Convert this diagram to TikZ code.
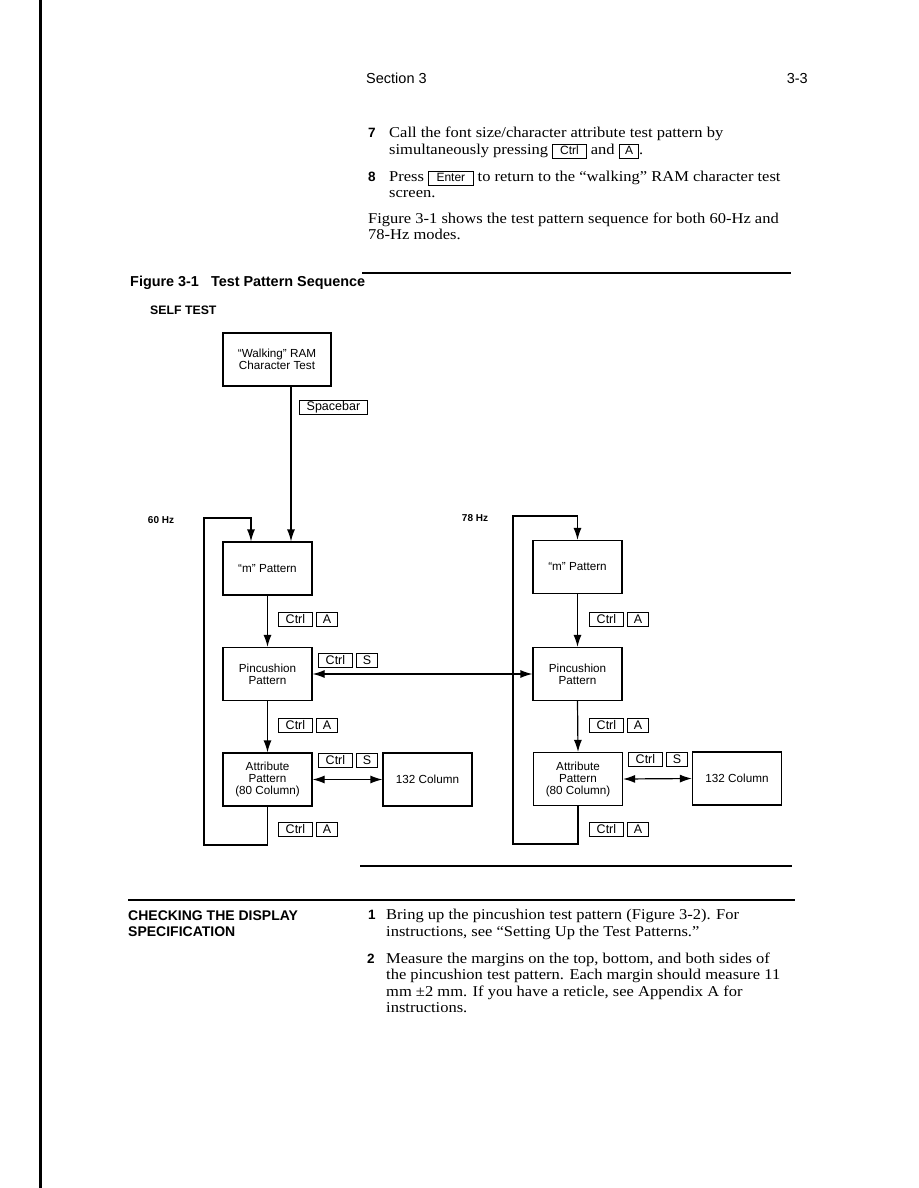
\documentclass[tikz,border=0pt]{standalone}
\usepackage{fontspec}
\setmainfont[FakeStretch=1.1]{Liberation Serif}
\setsansfont{Liberation Sans}
\usetikzlibrary{arrows.meta,calc}
\newcommand\kbox[2]{{\setlength\fboxsep{0.8pt}\setlength\fboxrule{0.9pt}\fbox{\makebox[#1][c]{\sffamily\fontsize{12}{12}\selectfont\rule[-2.8pt]{0pt}{11.2pt}#2}}}}
\begin{document}
\begin{tikzpicture}[x=1pt,y=-1pt,
  box/.style={draw, line width=1.2pt, minimum width=89pt, minimum height=53pt, inner sep=2pt, align=center, font=\sffamily\fontsize{11.7}{12}\selectfont},
  key/.style={draw, line width=0.9pt, inner sep=0pt, minimum height=13.5pt, anchor=north west, font=\sffamily\fontsize{12.5}{12.5}\selectfont},
  body/.style={anchor=base west, inner sep=0pt, font=\fontsize{15}{16}\selectfont},
  num/.style={anchor=base west, inner sep=0pt, font=\sffamily\bfseries\fontsize{13.5}{16}\selectfont},
  head/.style={anchor=base west, inner sep=0pt, font=\sffamily\fontsize{14.5}{16}\selectfont},
  lbl/.style={inner sep=0pt, font=\sffamily\bfseries\fontsize{10}{12}\selectfont},
  arr/.style={line width=1.2pt, -{Latex[length=12pt,width=8pt]}},
  darr/.style={line width=1.2pt, {Latex[length=12pt,width=8pt]}-{Latex[length=12pt,width=8pt]}},
  rule/.style={line width=2pt}
]
\useasboundingbox (0,0) rectangle (918,1188);
\fill[white] (0,0) rectangle (918,1188);
% left page edge
\draw[line width=3pt] (40.5,0) -- (40.5,1188);

% header
\node[head] (sec) at (366,84) {Section 3};
\node[head, anchor=base east] (pg) at (808,84) {3-3};

% steps
\node[num] (n7) at (368,138) {7};
\node[body] (t7a) at (389,138) {Call the font size/character attribute test pattern by};
\node[body] (t7b) at (389,154) {simultaneously pressing \kbox{31pt}{Ctrl} and \kbox{17pt}{A}.};
\node[num] (n8) at (368,181) {8};
\node[body] (t8a) at (389,181) {Press \kbox{42pt}{Enter} to return to the “walking” RAM character test};
\node[body] (t8b) at (389,197) {screen.};
\node[body] (t9a) at (368,223) {Figure 3-1 shows the test pattern sequence for both 60-Hz and};
\node[body] (t9b) at (368,239) {78-Hz modes.};

% figure caption
\draw[rule] (362,273) -- (791,273);
\node[anchor=base west, inner sep=0pt, font=\sffamily\bfseries\fontsize{14.4}{16}\selectfont] (cap) at (130,286) {Figure 3-1\ \ \ Test Pattern Sequence};
\node[anchor=base west, inner sep=0pt, font=\sffamily\bfseries\fontsize{12.3}{13}\selectfont] (self) at (150,314) {SELF TEST};

% boxes
\node[box, minimum width=108pt] (wr) at (277,359.5) {“Walking” RAM\\Character Test};
\node[box] (m1) at (267.5,568.5) {“m” Pattern};
\node[box] (p1) at (267.5,674) {Pincushion\\Pattern};
\node[box] (a1) at (267.5,779.5) {Attribute\\Pattern\\(80 Column)};
\node[box] (c1) at (427.5,779.5) {132 Column};
\node[box] (m2) at (577.5,567) {“m” Pattern};
\node[box] (p2) at (577.5,674) {Pincushion\\Pattern};
\node[box] (a2) at (578,779) {Attribute\\Pattern\\(80 Column)};
\node[box] (c2) at (737,778.5) {132 Column};

% labels
\node[lbl] (hz60) at (161,520) {60 Hz};
\node[lbl] (hz78) at (475,518) {78 Hz};

% keys
\node[key, minimum width=68pt] (ksp) at (299,400) {Spacebar};
\node[key, minimum width=34pt] (ka1c) at (278,612) {Ctrl};
\node[key, minimum width=21pt] (ka1a) at (316,612) {A};
\node[key, minimum width=34pt] (ks1c) at (318,653) {Ctrl};
\node[key, minimum width=21pt] (ks1s) at (356,653) {S};
\node[key, minimum width=34pt] (ka2c) at (278,718) {Ctrl};
\node[key, minimum width=21pt] (ka2a) at (316,718) {A};
\node[key, minimum width=34pt] (ks2c) at (318,753) {Ctrl};
\node[key, minimum width=21pt] (ks2s) at (356,753) {S};
\node[key, minimum width=34pt] (ka3c) at (278,822) {Ctrl};
\node[key, minimum width=21pt] (ka3a) at (316,822) {A};
\node[key, minimum width=34pt] (kr1c) at (589,612) {Ctrl};
\node[key, minimum width=21pt] (kr1a) at (627,612) {A};
\node[key, minimum width=34pt] (kr2c) at (589,718) {Ctrl};
\node[key, minimum width=21pt] (kr2a) at (627,718) {A};
\node[key, minimum width=34pt] (krsc) at (628,752) {Ctrl};
\node[key, minimum width=21pt] (krss) at (666,752) {S};
\node[key, minimum width=34pt] (kr3c) at (589,822) {Ctrl};
\node[key, minimum width=21pt] (kr3a) at (627,822) {A};

% connectors left
\draw[arr] ([xshift=14pt]wr.south) -- ([xshift=14pt]wr.south |- m1.north);
\coordinate (l1) at (204,845);
\coordinate (l2) at (204,518);
\draw[arr] (a1.south) |- (l1) -- (l2) -| ([xshift=-16.5pt]m1.north);
\draw[arr] (m1.south) -- (p1.north);
\draw[arr] (p1.south) -- (a1.north);
\draw[darr] (p1.east) -- (p2.west);
\draw[darr] (a1.east) -- (c1.west);

% connectors right
\coordinate (r1) at (513,844);
\coordinate (r2) at (513,516);
\draw[arr] (a2.south) |- (r1) -- (r2) -| (m2.north);
\draw[arr] (m2.south) -- (p2.north);
\draw[arr] (p2.south) -- (a2.north);
\draw[darr] (a2.east) -- (c2.west);

% lower rules
\draw[rule] (360,866) -- (792,866);
\draw[line width=2.5pt] (128,900) -- (795,900);

% checking the display
\node[anchor=base west, inner sep=0pt, font=\sffamily\bfseries\fontsize{14}{16}\selectfont] (chk1) at (128,920) {CHECKING THE DISPLAY};
\node[anchor=base west, inner sep=0pt, font=\sffamily\bfseries\fontsize{14}{16}\selectfont] (chk2) at (128,936) {SPECIFICATION};
\node[num] (n1) at (368,919) {1};
\node[body] (s1a) at (386,919) {Bring up the pincushion test pattern (Figure 3-2). For};
\node[body] (s1b) at (386,936) {instructions, see “Setting Up the Test Patterns.”};
\node[num] (n2) at (367,963) {2};
\node[body] (s2a) at (386,963) {Measure the margins on the top, bottom, and both sides of};
\node[body] (s2b) at (386,979) {the pincushion test pattern. Each margin should measure 11};
\node[body] (s2c) at (386,996) {mm ±2 mm. If you have a reticle, see Appendix A for};
\node[body] (s2d) at (386,1012) {instructions.};
\end{tikzpicture}
\end{document}
